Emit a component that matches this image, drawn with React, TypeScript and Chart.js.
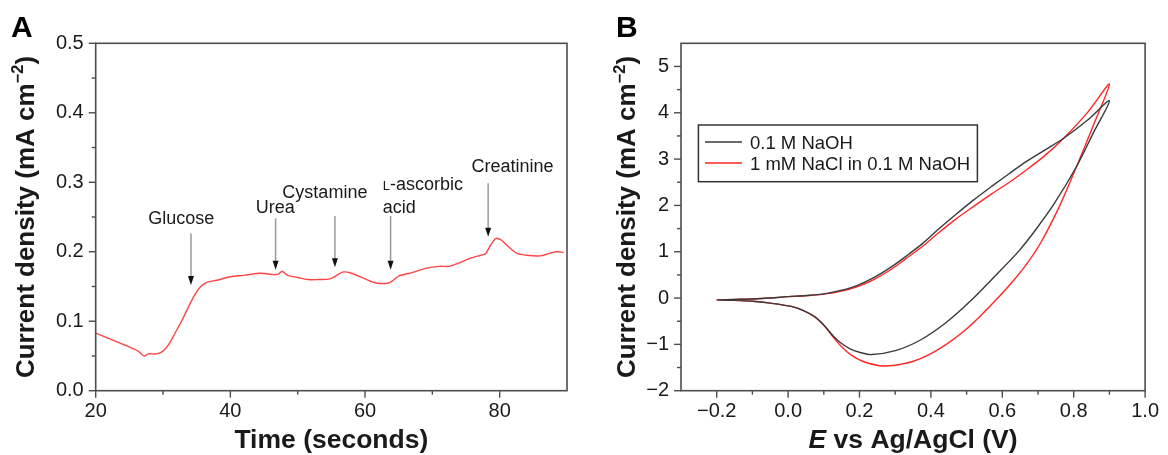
import React, { useEffect, useRef } from "react";
import { Chart, registerables } from "chart.js";

Chart.register(...registerables);

const FONT = '"Liberation Sans", Arial, Helvetica, sans-serif';
const AXIS = "#4d4d4d";
const TEXT = "#1a1a1a";

// ---------------- Panel A : amperometric response ----------------
const timeA = [20, 22, 24, 26.3, 27.2, 27.8, 29, 30, 30.8, 31.8, 32.8, 33.8, 34.6, 35.5, 36.5, 38, 40, 42, 44.5, 46.5, 47.2, 47.7, 48.5, 50, 51.5, 53, 54.8, 55.8, 56.8, 58, 60, 61.7, 63.5, 64.2, 65, 67, 69, 71, 72.5, 74, 75.5, 77.2, 77.9, 78.5, 79.4, 80.2, 81, 82.5, 84, 86, 87.5, 88.5, 89.5];
const currentA = [0.083, 0.075, 0.067, 0.057, 0.05, 0.053, 0.053, 0.057, 0.066, 0.083, 0.101, 0.121, 0.136, 0.149, 0.156, 0.159, 0.164, 0.166, 0.169, 0.167, 0.168, 0.172, 0.166, 0.163, 0.16, 0.16, 0.161, 0.166, 0.171, 0.169, 0.161, 0.155, 0.155, 0.159, 0.165, 0.17, 0.176, 0.179, 0.179, 0.184, 0.19, 0.195, 0.197, 0.207, 0.219, 0.217, 0.21, 0.198, 0.195, 0.194, 0.198, 0.2, 0.199];
const xTicksA = [20, 40, 60, 80];
const xMinorA = [30, 50, 70];
const yTicksA = [0, 0.1, 0.2, 0.3, 0.4, 0.5];
const yMinorA = [0.05, 0.15, 0.25, 0.35, 0.45];

// annotations (data units)
const annLines = [["Glucose"], ["Urea"], ["Cystamine"], ["L-ascorbic", "acid"], ["Creatinine"]];
const annSmallCapFirst = [false, false, false, true, false];
const annAlign = ["center", "center", "center", "left", "center"];
const annTextX = [32.7, 46.66, 54.04, 62.64, 81.92];
const annTextY = [0.2486, 0.265, 0.2864, 0.2975, 0.3237];
const annArrowX = [34.15, 46.72, 55.53, 63.8, 78.29];
const annArrowTop = [0.2265, 0.248, 0.2514, 0.2514, 0.2985];
const annArrowTip = [0.152, 0.174, 0.1776, 0.174, 0.2217];

// ---------------- Panel B : cyclic voltammograms ----------------
const seriesNames = ["0.1 M NaOH", "1 mM NaCl in 0.1 M NaOH"];
const potentialNaOH = [-0.2, -0.15, -0.1, -0.05, 0.0, 0.05, 0.1, 0.15, 0.193, 0.24, 0.285, 0.33, 0.377, 0.42, 0.469, 0.52, 0.57, 0.62, 0.67, 0.72, 0.772, 0.84, 0.9,
  0.854, 0.808, 0.744, 0.694, 0.648, 0.579, 0.51, 0.441, 0.372, 0.303, 0.234, 0.2, 0.175, 0.15, 0.129, 0.1, 0.074, 0.04, 0.009, -0.05, -0.1, -0.15, -0.2];
const currentNaOH = [-0.04, -0.03, -0.02, 0.0, 0.03, 0.055, 0.09, 0.17, 0.27, 0.44, 0.65, 0.9, 1.18, 1.48, 1.8, 2.12, 2.41, 2.69, 2.96, 3.2, 3.45, 3.85, 4.26,
  3.55, 2.84, 2.02, 1.48, 1.03, 0.47, -0.07, -0.54, -0.9, -1.13, -1.22, -1.17, -1.1, -0.98, -0.84, -0.58, -0.4, -0.26, -0.18, -0.11, -0.07, -0.05, -0.04];
const potentialNaCl = [-0.2, -0.15, -0.1, -0.05, 0.0, 0.05, 0.1, 0.15, 0.193, 0.24, 0.285, 0.33, 0.377, 0.42, 0.469, 0.52, 0.57, 0.62, 0.67, 0.72, 0.772, 0.84, 0.9,
  0.854, 0.808, 0.76, 0.708, 0.667, 0.625, 0.58, 0.533, 0.487, 0.441, 0.395, 0.349, 0.3, 0.257, 0.21, 0.175, 0.15, 0.129, 0.1, 0.074, 0.04, 0.009, -0.05, -0.1, -0.15, -0.2];
const currentNaCl = [-0.04, -0.03, -0.02, 0.0, 0.03, 0.05, 0.085, 0.15, 0.24, 0.4, 0.6, 0.85, 1.12, 1.4, 1.7, 1.98, 2.25, 2.5, 2.78, 3.08, 3.45, 4.02, 4.62,
  3.71, 2.84, 1.98, 1.2, 0.72, 0.32, -0.06, -0.43, -0.75, -1.01, -1.22, -1.37, -1.45, -1.46, -1.37, -1.22, -1.05, -0.87, -0.59, -0.4, -0.26, -0.18, -0.11, -0.07, -0.05, -0.04];
const xTicksB = [-0.2, 0, 0.2, 0.4, 0.6, 0.8, 1.0];
const xMinorB = [-0.1, 0.1, 0.3, 0.5, 0.7, 0.9];
const yTicksB = [-2, -1, 0, 1, 2, 3, 4, 5];
const yMinorB = [-1.5, -0.5, 0.5, 1.5, 2.5, 3.5, 4.5];

const W = 584;
const H = 455;

type Run = { text: string; font: string; dy?: number };

function drawRuns(ctx: CanvasRenderingContext2D, runs: Run[], cx: number, cy: number, rotate: boolean, align = "center") {
  ctx.save();
  ctx.translate(cx, cy);
  if (rotate) ctx.rotate(-Math.PI / 2);
  let total = 0;
  for (const r of runs) {
    ctx.font = r.font;
    total += ctx.measureText(r.text).width;
  }
  let x = align === "center" ? -total / 2 : 0;
  ctx.textBaseline = "alphabetic";
  ctx.textAlign = "left";
  ctx.fillStyle = TEXT;
  for (const r of runs) {
    ctx.font = r.font;
    ctx.fillText(r.text, x, r.dy || 0);
    x += ctx.measureText(r.text).width;
  }
  ctx.restore();
}

function line(ctx: CanvasRenderingContext2D, x1: number, y1: number, x2: number, y2: number) {
  ctx.beginPath();
  ctx.moveTo(x1, y1);
  ctx.lineTo(x2, y2);
  ctx.stroke();
}

function axesPlugin(opts: {
  xMajor: number[]; xMinor: number[]; yMajor: number[]; yMinor: number[];
  letter: string; letterX: number; yTitleOffset: number;
  yTitle: Run[]; xTitle: Run[];
}) {
  return {
    id: "axesFrame",
    afterDraw(chart: any) {
      const { ctx, chartArea: ca, scales } = chart;
      const xs = scales.x;
      const ys = scales.y;
      ctx.save();
      ctx.strokeStyle = AXIS;
      ctx.lineWidth = 1.6;
      ctx.strokeRect(ca.left, ca.top, ca.right - ca.left, ca.bottom - ca.top);
      ctx.lineWidth = 1.4;
      for (const v of opts.xMajor) { const p = xs.getPixelForValue(v); line(ctx, p, ca.bottom, p, ca.bottom + 7); }
      for (const v of opts.xMinor) { const p = xs.getPixelForValue(v); line(ctx, p, ca.bottom, p, ca.bottom + 4); }
      for (const v of opts.yMajor) { const p = ys.getPixelForValue(v); line(ctx, ca.left - 7, p, ca.left, p); }
      for (const v of opts.yMinor) { const p = ys.getPixelForValue(v); line(ctx, ca.left - 4, p, ca.left, p); }
      ctx.restore();

      // titles
      const midY = (ca.top + ca.bottom) / 2;
      const midX = (ca.left + ca.right) / 2;
      drawRuns(ctx, opts.yTitle, ca.left - opts.yTitleOffset + 9, midY, true);
      drawRuns(ctx, opts.xTitle, midX, ca.bottom + 48.3 + 9, false);
      // panel letter
      ctx.save();
      ctx.font = `bold 30px ${FONT}`;
      ctx.fillStyle = "#000";
      ctx.textBaseline = "alphabetic";
      ctx.fillText(opts.letter, opts.letterX, 37);
      ctx.restore();
    },
  };
}

const yTitleRuns = (): Run[] => [
  { text: "Current density (mA cm", font: `bold 26px ${FONT}` },
  { text: "\u22122", font: `bold 16.5px ${FONT}`, dy: -10.5 },
  { text: ")", font: `bold 26px ${FONT}` },
];

const fmtMinus = (s: string) => s.replace("-", "\u2212");

function PanelA() {
  const ref = useRef<HTMLCanvasElement>(null);
  useEffect(() => {
    const annPlugin = {
      id: "annotations",
      afterDraw(chart: any) {
        const { ctx, scales } = chart;
        const xs = scales.x;
        const ys = scales.y;
        ctx.save();
        for (let i = 0; i < annLines.length; i++) {
          const ax = xs.getPixelForValue(annArrowX[i]);
          const top = ys.getPixelForValue(annArrowTop[i]);
          const tip = ys.getPixelForValue(annArrowTip[i]);
          ctx.strokeStyle = "#9a9a9a";
          ctx.lineWidth = 1.5;
          line(ctx, ax, top, ax, tip - 8);
          ctx.fillStyle = "#111";
          ctx.beginPath();
          ctx.moveTo(ax - 3, tip - 9);
          ctx.lineTo(ax + 3, tip - 9);
          ctx.lineTo(ax, tip);
          ctx.closePath();
          ctx.fill();
          const tx = xs.getPixelForValue(annTextX[i]);
          const ty = ys.getPixelForValue(annTextY[i]);
          annLines[i].forEach((txt, j) => {
            const big = `18px ${FONT}`;
            const runs: Run[] = annSmallCapFirst[i] && j === 0
              ? [{ text: txt[0], font: `13px ${FONT}` }, { text: txt.slice(1), font: big }]
              : [{ text: txt, font: big }];
            drawRuns(ctx, runs, tx, ty + 6.5 + j * 22.7, false, annAlign[i]);
          });
        }
        ctx.restore();
      },
    };
    const chart = new Chart(ref.current!, {
      type: "scatter",
      data: {
        datasets: [{
          data: timeA.map((t, i) => ({ x: t, y: currentA[i] })),
          showLine: true,
          borderColor: "#ff4545",
          borderWidth: 1.4,
          pointRadius: 0,
          tension: 0.3,
        }],
      },
      options: {
        responsive: false,
        animation: false,
        layout: { padding: { left: 0, right: W - 567, top: 43.3, bottom: 0 } },
        plugins: { legend: { display: false }, tooltip: { enabled: false } },
        scales: {
          x: {
            type: "linear", min: 20, max: 90,
            grid: { display: false, drawTicks: false }, border: { display: false },
            afterBuildTicks: (s: any) => { s.ticks = xTicksA.map((v) => ({ value: v })); },
            afterFit: (s: any) => { s.height = H - 390.7; },
            ticks: { padding: 9, color: TEXT, font: { family: FONT, size: 20 }, maxRotation: 0, autoSkip: false, callback: (v: any) => String(v) },
          },
          y: {
            type: "linear", min: 0, max: 0.5,
            grid: { display: false, drawTicks: false }, border: { display: false },
            afterBuildTicks: (s: any) => { s.ticks = yTicksA.map((v) => ({ value: v })); },
            afterFit: (s: any) => { s.width = 95.7; },
            ticks: { padding: 12, color: TEXT, font: { family: FONT, size: 20 }, autoSkip: false, callback: (v: any) => Number(v).toFixed(1) },
          },
        },
      },
      plugins: [
        axesPlugin({
          xMajor: xTicksA, xMinor: xMinorA, yMajor: yTicksA, yMinor: yMinorA,
          letter: "A", letterX: 11, yTitleOffset: 71,
          yTitle: yTitleRuns(),
          xTitle: [{ text: "Time (seconds)", font: `bold 26.5px ${FONT}` }],
        }),
        annPlugin,
      ],
    } as any);
    return () => chart.destroy();
  }, []);
  return <canvas ref={ref} width={W} height={H} style={{ position: "absolute", left: 0, top: 0, width: W, height: H }} />;
}

function PanelB() {
  const ref = useRef<HTMLCanvasElement>(null);
  useEffect(() => {
    const colors = ["#3a3a3a", "#ff2626"];
    const legendPlugin = {
      id: "boxLegend",
      afterDraw(chart: any) {
        const { ctx, chartArea: ca } = chart;
        const bx = ca.left + 17.4;
        const by = ca.top + 81.7;
        ctx.save();
        ctx.fillStyle = "#fff";
        ctx.fillRect(bx, by, 279, 56.7);
        ctx.strokeStyle = "#333";
        ctx.lineWidth = 1.5;
        ctx.strokeRect(bx, by, 279, 56.7);
        seriesNames.forEach((name, i) => {
          const yy = by + 17 + i * 21;
          ctx.strokeStyle = colors[i];
          ctx.lineWidth = 1.6;
          line(ctx, bx + 6.6, yy, bx + 43.6, yy);
          drawRuns(ctx, [{ text: name, font: `18.5px ${FONT}` }], bx + 51.6, yy + 6.6, false, "left");
        });
        ctx.restore();
      },
    };
    const chart = new Chart(ref.current!, {
      type: "scatter",
      data: {
        datasets: [
          {
            data: potentialNaOH.map((e, i) => ({ x: e, y: currentNaOH[i] })),
            showLine: true, borderColor: colors[0], borderWidth: 1.4, pointRadius: 0, tension: 0.3,
          },
          {
            data: potentialNaCl.map((e, i) => ({ x: e, y: currentNaCl[i] })),
            showLine: true, borderColor: colors[1], borderWidth: 1.4, pointRadius: 0, tension: 0.3,
          },
        ],
      },
      options: {
        responsive: false,
        animation: false,
        layout: { padding: { left: 0, right: W - 569, top: 43.3, bottom: 0 } },
        plugins: { legend: { display: false }, tooltip: { enabled: false } },
        scales: {
          x: {
            type: "linear", min: -0.3, max: 1.0,
            grid: { display: false, drawTicks: false }, border: { display: false },
            afterBuildTicks: (s: any) => { s.ticks = xTicksB.map((v) => ({ value: v })); },
            afterFit: (s: any) => { s.height = H - 390.7; },
            ticks: { padding: 9, color: TEXT, font: { family: FONT, size: 20 }, maxRotation: 0, autoSkip: false, callback: (v: any) => fmtMinus(Number(v).toFixed(1)) },
          },
          y: {
            type: "linear", min: -2, max: 5.5,
            grid: { display: false, drawTicks: false }, border: { display: false },
            afterBuildTicks: (s: any) => { s.ticks = yTicksB.map((v) => ({ value: v })); },
            afterFit: (s: any) => { s.width = 97; },
            ticks: { padding: 12, color: TEXT, font: { family: FONT, size: 20 }, autoSkip: false, callback: (v: any) => fmtMinus(String(v)) },
          },
        },
      },
      plugins: [
        axesPlugin({
          xMajor: xTicksB, xMinor: xMinorB, yMajor: yTicksB, yMinor: yMinorB,
          letter: "B", letterX: 32, yTitleOffset: 55,
          yTitle: yTitleRuns(),
          xTitle: [
            { text: "E", font: `italic bold 26.5px ${FONT}` },
            { text: " vs Ag/AgCl (V)", font: `bold 26.5px ${FONT}` },
          ],
        }),
        legendPlugin,
      ],
    } as any);
    return () => chart.destroy();
  }, []);
  return <canvas ref={ref} width={W} height={H} style={{ position: "absolute", left: W, top: 0, width: W, height: H }} />;
}

export default function App() {
  return (
    <div style={{ position: "absolute", left: 0, top: 0, width: 1168, height: 455, background: "#fff", overflow: "hidden" }}>
      <PanelA />
      <PanelB />
    </div>
  );
}
